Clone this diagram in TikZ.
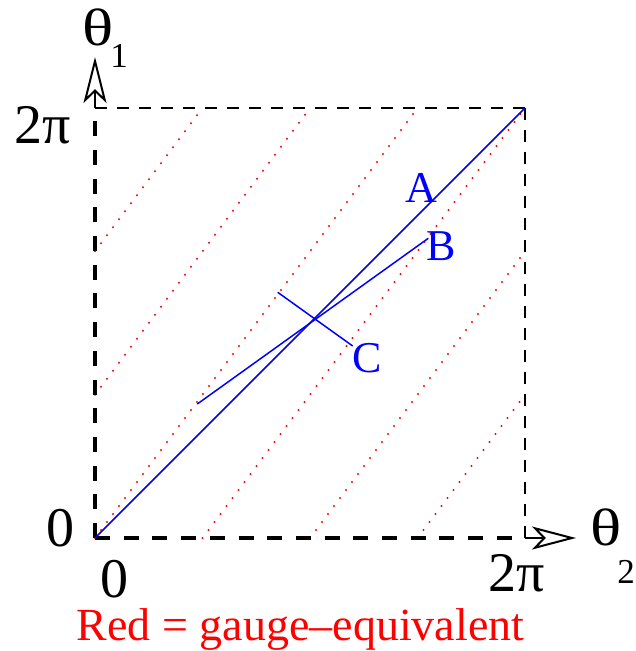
\documentclass[tikz,border=0pt]{standalone}
\usepackage{fontspec}
\setmainfont{Liberation Serif}
\usetikzlibrary{arrows.meta}
\begin{document}
\begin{tikzpicture}[x=1pt,y=-1pt,
  axthick/.style={line width=3.2pt, dash pattern=on 15pt off 13.7pt},
  axthin/.style={line width=2pt, dash pattern=on 12pt off 10pt},
  arrowax/.style={line width=2pt, -{Stealth[open,fill=white,length=#1,width=23pt,inset=11pt]}},
  gauge/.style={red, line width=2.2pt, line cap=round, dash pattern=on 0pt off 10pt},
  blueline/.style={blue, line width=1.5pt},
  lbl/.style={inner sep=0pt, anchor=base},
  numlbl/.style={lbl, font=\fontsize{56}{60}\selectfont},
  thlbl/.style={lbl, font=\fontsize{50}{54}\selectfont},
  sublbl/.style={lbl, font=\fontsize{35}{38}\selectfont},
  abclbl/.style={lbl, blue, font=\fontsize{44}{48}\selectfont},
  redlbl/.style={lbl, red, font=\fontsize{46}{50}\selectfont}]
\useasboundingbox (0,0) rectangle (635,651);
% corners
\coordinate (O) at (95,538);
\coordinate (TL) at (95,108);
\coordinate (TR) at (525,108);
\coordinate (BR) at (525,538);
\coordinate (ytip) at (95,57);
\coordinate (xtip) at (576,538);
% gauge-equivalent lines
\coordinate (g1a) at (95,251.3);  \coordinate (g1b) at (202.5,108);
\coordinate (g2a) at (95,394.7);  \coordinate (g2b) at (310,108);
\coordinate (g3a) at (95,538);    \coordinate (g3b) at (417.5,108);
\coordinate (g4a) at (202.5,538); \coordinate (g4b) at (525,108);
\coordinate (g5a) at (310,538);   \coordinate (g5b) at (525,251.3);
\coordinate (g6a) at (417.5,538); \coordinate (g6b) at (525,394.7);
\foreach \i in {1,...,6} {\draw[gauge] (g\i a) -- (g\i b);}
% box
\draw[axthin] (TL) -- (TR);
\draw[axthin] (TR) -- (BR);
\draw[axthick] (O) -- (TL);
\draw[axthick] (O) -- (BR);
\draw[arrowax=46pt] (TL) -- (ytip);
\draw[arrowax=44pt] (BR) -- (xtip);
% blue lines
\coordinate (B1) at (197.3,404);  \coordinate (B2) at (428.3,238.3);
\coordinate (C1) at (277.7,292.3); \coordinate (C2) at (352.7,346);
\draw[blueline] (O) -- (TR);
\draw[blueline] (B1) -- (B2);
\draw[blueline] (C1) -- (C2);
% labels
\node[abclbl] (la) at (421.5,202) {A};
\node[abclbl] (lb) at (441.5,260) {B};
\node[abclbl] (lc) at (367.5,372) {C};
\node[thlbl] (th1) at (98,45) {\scalebox{1.3}[1.05]{θ}};
\node[sublbl] (th1s) at (119,67) {1};
\node[thlbl] (th2) at (606,545) {\scalebox{1.3}[1.05]{θ}};
\node[sublbl] (th2s) at (626,583) {2};
\node[numlbl] (ytop) at (43,143) {2π};
\node[numlbl] (yzero) at (60,546) {0};
\node[numlbl] (xzero) at (114,597) {0};
\node[numlbl] (xtop) at (517,591) {2π};
\node[redlbl] (note) at (300.5,640) {Red = gauge–equivalent};
\end{tikzpicture}
\end{document}
